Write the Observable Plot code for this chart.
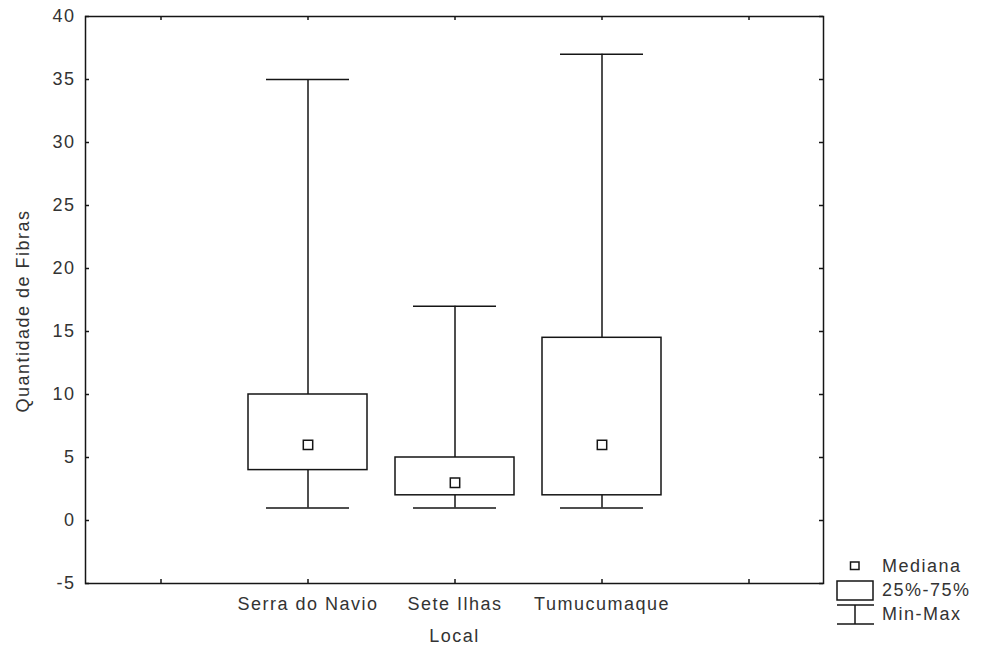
<!DOCTYPE html>
<html>
<head>
<meta charset="utf-8">
<script src="https://cdn.jsdelivr.net/npm/d3@7"></script>
<script src="https://cdn.jsdelivr.net/npm/@observablehq/plot@0.6"></script>
<style>
  body { margin: 0; background: #fff; }
  #wrap { position: relative; width: 982px; height: 653px; }
  #wrap svg text { font-family: "Liberation Sans", Arial, sans-serif; letter-spacing: 1.5px; }
  #legend { position: absolute; left: 0; top: 0; }
</style>
</head>
<body>
<div id="wrap"></div>
<script>
// Data
const categories = ["Serra do Navio", "Sete Ilhas", "Tumucumaque"];
const minValues = [1, 1, 1];
const q1Values = [4, 2, 2];
const medianValues = [6, 3, 6];
const q3Values = [10, 5, 14.5];
const maxValues = [35, 17, 37];
const yTickValues = [-5, 0, 5, 10, 15, 20, 25, 30, 35, 40];
const xDomain = ["", ...categories, " "];
const yLabel = "Quantidade de Fibras";
const xLabel = "Local";
const legendLabels = ["Mediana", "25%-75%", "Min-Max"];

const rows = categories.map((c, i) => ({
  local: c, min: minValues[i], q1: q1Values[i], med: medianValues[i], q3: q3Values[i], max: maxValues[i]
}));

const ink = "#151515";
const textColor = "#333";
const W = 982, H = 653, mL = 85, mR = 159, mT = 16, mB = 70;
const frameW = W - mL - mR, frameH = H - mT - mB;
const tk = 4;

const chart = Plot.plot({
  width: W, height: H,
  marginLeft: mL, marginRight: mR, marginTop: mT, marginBottom: mB,
  style: { fontSize: "18px", color: textColor, background: "#fff" },
  x: { type: "band", domain: xDomain, padding: 0, label: null },
  y: { domain: [-5, 40], label: null },
  marks: [
    // whiskers
    Plot.ruleX(rows, { x: "local", y1: "min", y2: "q1", stroke: ink, strokeWidth: 1.5 }),
    Plot.ruleX(rows, { x: "local", y1: "q3", y2: "max", stroke: ink, strokeWidth: 1.5 }),
    // caps
    Plot.tickY(rows, { x: "local", y: "min", stroke: ink, strokeWidth: 1.5, insetLeft: 32, insetRight: 32 }),
    Plot.tickY(rows, { x: "local", y: "max", stroke: ink, strokeWidth: 1.5, insetLeft: 32, insetRight: 32 }),
    // boxes
    Plot.barY(rows, { x: "local", y1: "q1", y2: "q3", fill: "white", stroke: ink, strokeWidth: 1.5, insetLeft: 14, insetRight: 14 }),
    // medians
    Plot.dot(rows, { x: "local", y: "med", symbol: "square", r: 5.3, fill: "white", stroke: ink, strokeWidth: 1.5 }),
    // inward ticks
    Plot.tickY(yTickValues, { y: d => d, stroke: ink, strokeWidth: 1.5, insetRight: frameW - tk }),
    Plot.tickY(yTickValues, { y: d => d, stroke: ink, strokeWidth: 1.5, insetLeft: frameW - tk }),
    Plot.tickX(xDomain, { x: d => d, stroke: ink, strokeWidth: 1.5, insetTop: frameH - tk }),
    Plot.tickX(xDomain, { x: d => d, stroke: ink, strokeWidth: 1.5, insetBottom: frameH - tk }),
    // axes labels
    Plot.axisY({ ticks: yTickValues, tickFormat: d => String(d), tickSize: 0, tickPadding: 10, label: null, fill: textColor }),
    Plot.axisX({ tickSize: 0, tickPadding: 14, label: null, fill: textColor }),
    Plot.text([yLabel], { frameAnchor: "left", textAnchor: "middle", lineAnchor: "middle", rotate: -90, dx: -62, dy: 11, fill: textColor, fontSize: 18 }),
    Plot.text([xLabel], { frameAnchor: "bottom", textAnchor: "middle", lineAnchor: "middle", dy: 53, fill: textColor, fontSize: 18 }),
    Plot.frame({ stroke: ink, strokeWidth: 1.5 })
  ]
});
document.getElementById("wrap").appendChild(chart);

// Legend (outside plot frame, bottom right)
const leg = d3.select("#wrap").append("svg").attr("id", "legend")
  .attr("width", W).attr("height", H).style("pointer-events", "none");
const lg = leg.append("g").attr("fill", "none").attr("stroke", ink).attr("stroke-width", 1.5);
lg.append("rect").attr("x", 850.5).attr("y", 562).attr("width", 8.5).attr("height", 7.5).attr("fill", "white");
lg.append("rect").attr("x", 837).attr("y", 581).attr("width", 36).attr("height", 19).attr("fill", "white");
lg.append("line").attr("x1", 837).attr("x2", 874).attr("y1", 605).attr("y2", 605);
lg.append("line").attr("x1", 855).attr("x2", 855).attr("y1", 605).attr("y2", 624);
lg.append("line").attr("x1", 837).attr("x2", 874).attr("y1", 624).attr("y2", 624);
leg.selectAll("text.lab").data(legendLabels).join("text")
  .attr("class", "lab")
  .attr("x", 882)
  .attr("y", (d, i) => [566, 590, 614][i])
  .attr("dy", "0.35em")
  .attr("fill", textColor)
  .style("font-size", "18px")
  .text(d => d);
</script>
</body>
</html>
